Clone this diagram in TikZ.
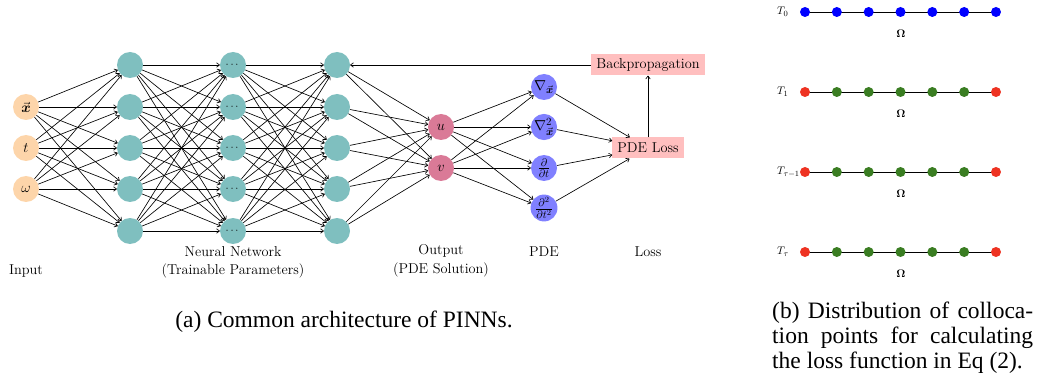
\documentclass[tikz,border=0pt]{standalone}
\usepackage{amsmath}
\usepackage{fontspec}
\newfontfamily\capfont{Liberation Serif}
\usetikzlibrary{arrows.meta}
\definecolor{inpc}{HTML}{FDD5AA}
\definecolor{hidc}{HTML}{7FBFBF}
\definecolor{outc}{HTML}{DA7A97}
\definecolor{pdec}{HTML}{8080FF}
\definecolor{lossc}{HTML}{FFBFBF}
\definecolor{dotblue}{HTML}{0000FF}
\definecolor{dotred}{HTML}{EE3322}
\definecolor{dotgreen}{HTML}{3A7D22}
\tikzset{
  neuron/.style={circle,minimum size=26pt,inner sep=0pt,font=\fontsize{15.5}{18}\selectfont},
  inp/.style={neuron,fill=inpc},
  hid/.style={neuron,fill=hidc},
  outn/.style={neuron,fill=outc},
  pden/.style={neuron,fill=pdec},
  lossbox/.style={rectangle,fill=lossc,inner xsep=5pt,minimum height=21pt,font=\fontsize{14.3}{17}\selectfont},
  lbl/.style={font=\fontsize{14.3}{17}\selectfont,inner sep=0pt},
  conn/.style={-{To[length=3.5pt,width=5pt]},line width=0.65pt},
  pt/.style={circle,minimum size=10pt,inner sep=0pt},
  small/.style={font=\fontsize{11}{13}\selectfont,inner sep=0pt},
  capt/.style={inner sep=0pt,font=\capfont\fontsize{23.5}{26}\selectfont},
}
\begin{document}
\begin{tikzpicture}[x=1pt,y=-1pt]
\useasboundingbox (0,0) rectangle (1038,374);
% inputs
\node[inp] (i1) at (26,107) {$\vec{\boldsymbol{x}}$};
\node[inp] (i2) at (26,148) {$t$};
\node[inp] (i3) at (26,189) {$\omega$};
\foreach \k/\y in {1/65,2/107,3/148,4/189,5/231}{
  \node[hid] (a\k) at (130,\y) {};
  \node[hid] (b\k) at (233,\y) {\fontsize{11}{13}\selectfont$\cdots$};
  \node[hid] (c\k) at (337,\y) {};
}
\node[outn] (u) at (441,127) {$u$};
\node[outn] (v) at (441,168) {$v$};
\node[pden] (p1) at (544,87) {$\nabla_{\vec{\boldsymbol{x}}}$};
\node[pden] (p2) at (544,127) {$\nabla^2_{\vec{\boldsymbol{x}}}$};
\node[pden] (p3) at (544,168) {$\frac{\partial}{\partial t}$};
\node[pden] (p4) at (544,208) {$\frac{\partial^2}{\partial t^2}$};
\node[lossbox] (loss) at (648,148) {PDE Loss};
\node[lossbox] (bp) at (648,65) {Backpropagation};
% connections
\foreach \i in {1,2,3}{\foreach \j in {1,...,5}{\draw[conn] (i\i) -- (a\j);}}
\foreach \i in {1,...,5}{\foreach \j in {1,...,5}{\draw[conn] (a\i) -- (b\j); \draw[conn] (b\i) -- (c\j);}}
\foreach \i in {1,...,5}{\draw[conn] (c\i) -- (u); \draw[conn] (c\i) -- (v);}
\foreach \j in {1,...,4}{\draw[conn] (u) -- (p\j); \draw[conn] (v) -- (p\j); \draw[conn] (p\j) -- (loss);}
\draw[conn] (loss) -- (bp);
\draw[conn] (bp) -- (c1);
% labels
\node[lbl] (lin) at (26,271) {Input};
\node[lbl] (lnn1) at (233,252) {Neural Network};
\node[lbl] (lnn2) at (233,271) {(Trainable Parameters)};
\node[lbl] (lout1) at (441,251) {Output};
\node[lbl] (lout2) at (441,270) {(PDE Solution)};
\node[lbl] (lpde) at (544,252) {PDE};
\node[lbl] (lloss) at (648,252) {Loss};
% caption a
\node[capt,anchor=base] (capa) at (344,327) {(a) Common architecture of PINNs.};
% right panel
\foreach \r/\y/\lab/\kind in {1/12/{T_0}/0,2/92/{T_1}/1,3/172/{T_{\tau-1}}/1,4/252/{T_\tau}/1}{
  \node[small,anchor=west] (T\r) at (777,\y) {$\lab$};
  \foreach \k in {0,...,6}{
    \coordinate (q\r-\k) at (805+31.83*\k,\y);
  }
  \draw[line width=0.8pt] (q\r-0) -- (q\r-6);
  \ifnum\kind=0
    \foreach \k in {0,...,6}{\node[pt,fill=dotblue] (d\r-\k) at (q\r-\k) {};}
  \else
    \node[pt,fill=dotred] (d\r-0) at (q\r-0) {};
    \node[pt,fill=dotred] (d\r-6) at (q\r-6) {};
    \foreach \k in {1,...,5}{\node[pt,fill=dotgreen] (d\r-\k) at (q\r-\k) {};}
  \fi
  \node[small] (om\r) at (901,\y+22) {$\boldsymbol{\Omega}$};
}
% caption b
\node[capt,anchor=base west] (capb1) at (772,318) {\makebox[261pt][s]{(b) Distribution of colloca-}};
\node[capt,anchor=base west] (capb2) at (772,343.5) {\makebox[261pt][s]{tion points for calculating}};
\node[capt,anchor=base west] (capb3) at (772,368.5) {the loss function in Eq (2).};
\end{tikzpicture}
\end{document}
